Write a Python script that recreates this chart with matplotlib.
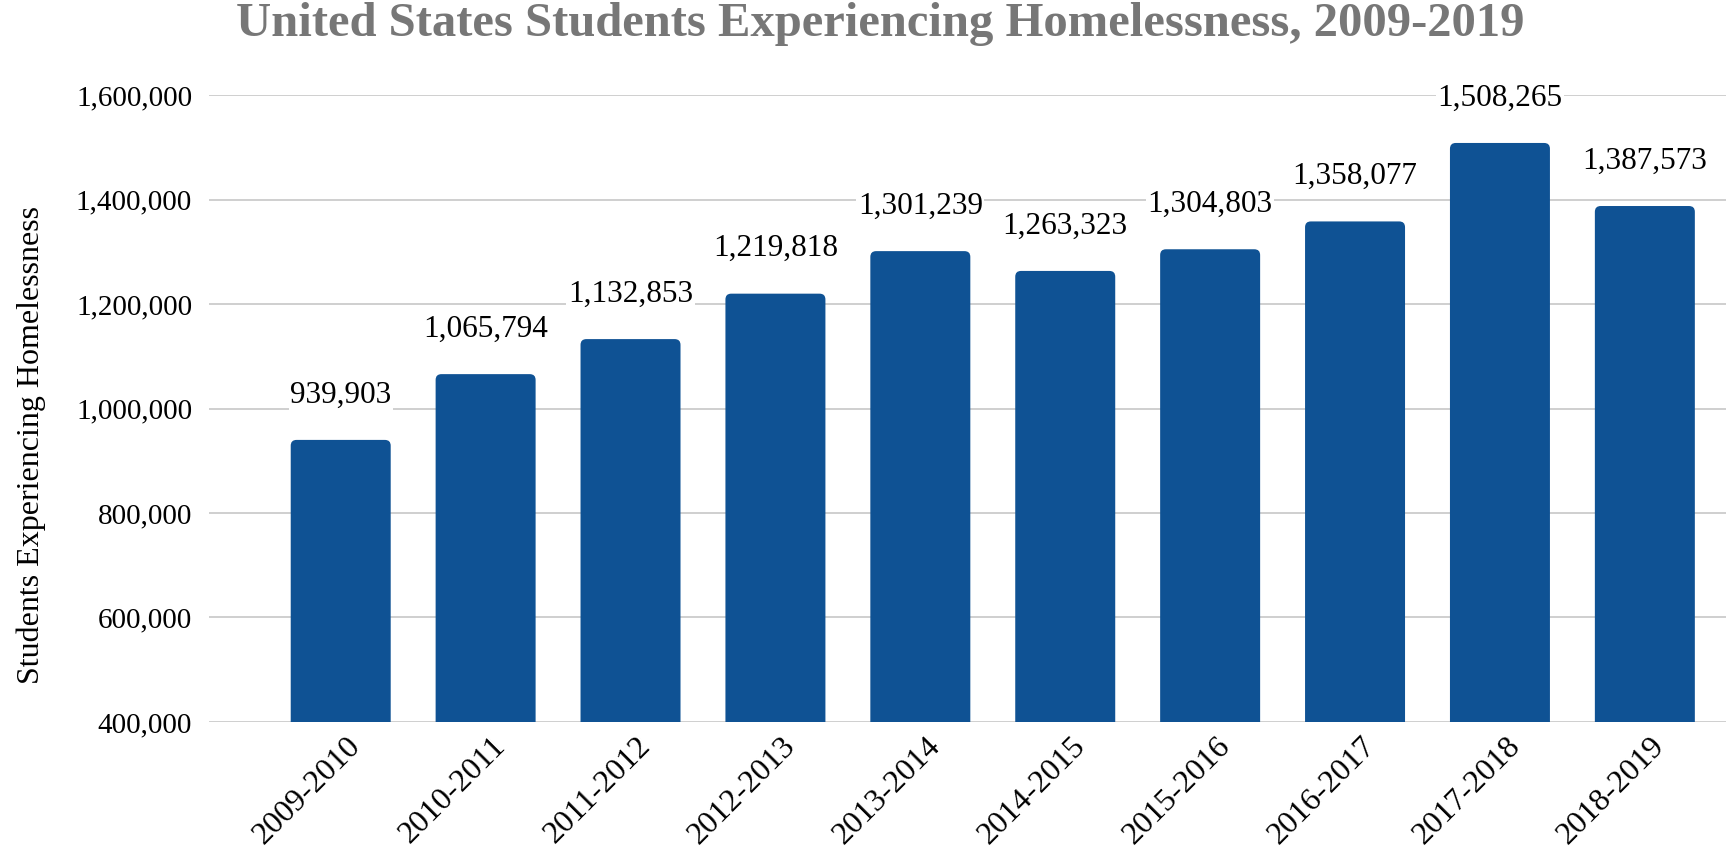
import matplotlib
matplotlib.use("Agg")
import matplotlib.pyplot as plt
from matplotlib.patches import FancyBboxPatch
from matplotlib.ticker import FuncFormatter
from matplotlib.transforms import ScaledTranslation

# school years and counts of students experiencing homelessness
years = ["2009-2010", "2010-2011", "2011-2012", "2012-2013", "2013-2014",
         "2014-2015", "2015-2016", "2016-2017", "2017-2018", "2018-2019"]
students = [939903, 1065794, 1132853, 1219818, 1301239,
            1263323, 1304803, 1358077, 1508265, 1387573]
y_ticks = [400000, 600000, 800000, 1000000, 1200000, 1400000, 1600000]

bar_color = "#0F5294"
bar_width = 0.69

plt.rcParams["font.family"] = ["Liberation Serif", "DejaVu Serif"]

fig = plt.figure(figsize=(17.26, 8.47), dpi=100)
ax = fig.add_axes([0.121, 0.1476, 0.879, 0.7402])

ax.set_xlim(-0.91, 9.56)
ax.set_ylim(400000, 1600000)

# aspect between y and x data units in pixels, so the corner rounding stays circular
fig.canvas.draw()
p0 = ax.transData.transform((0, 0))
p1 = ax.transData.transform((1, 1))
aspect = (p1[0] - p0[0]) / (p1[1] - p0[1])

for i, val in enumerate(students):
    patch = FancyBboxPatch((i - bar_width / 2, 0), bar_width, val,
                           boxstyle="round,pad=0,rounding_size=0.04",
                           mutation_aspect=aspect,
                           facecolor=bar_color, edgecolor="none", zorder=2)
    ax.add_patch(patch)
    ax.annotate(f"{val:,}", (i, val), xytext=(0, 22), textcoords="offset points",
                ha="center", va="bottom", fontsize=22.5, color="black",
                bbox=dict(boxstyle="square,pad=0.05", facecolor="white", edgecolor="none"),
                annotation_clip=False, zorder=3)

ax.set_yticks(y_ticks)
ax.yaxis.set_major_formatter(FuncFormatter(lambda v, p: f"{int(v):,}"))
ax.set_xticks(range(len(years)))
ax.set_xticklabels(years, rotation=45, ha="right", rotation_mode="anchor")
ax.tick_params(axis="y", length=0, labelsize=21, pad=12)
ax.tick_params(axis="x", length=0, labelsize=23, pad=7)

# nudge the slanted year labels to the right
shift = ScaledTranslation(4 / 72, 0, fig.dpi_scale_trans)
for lbl in ax.get_xticklabels():
    lbl.set_transform(lbl.get_transform() + shift)

ax.grid(axis="y", color="#CCCCCC", linewidth=1.3, zorder=0)
ax.set_axisbelow(True)
for s in ax.spines.values():
    s.set_visible(False)

fig.text(0.018, 0.475, "Students Experiencing Homelessness", rotation=90,
         ha="center", va="center", fontsize=23)
fig.text(0.51, 0.972, "United States Students Experiencing Homelessness, 2009-2019",
         ha="center", va="center", fontsize=35, fontweight="bold", color="#777777")

fig.savefig("out.png", dpi=100)
